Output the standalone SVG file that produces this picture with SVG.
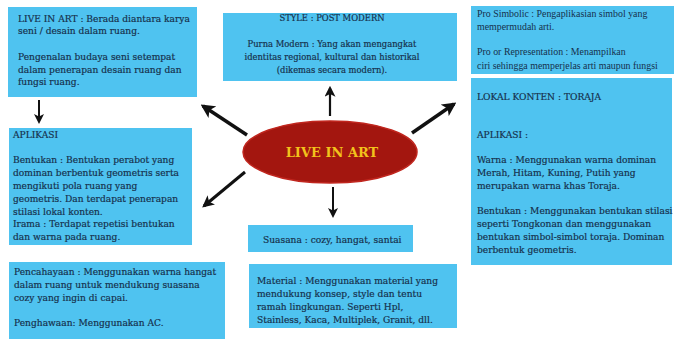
<svg xmlns="http://www.w3.org/2000/svg" width="674" height="339" viewBox="0 0 674 339">
<defs>
<style>
.box{fill:#4fc3f0;}
.t{font-family:"DejaVu Serif","Liberation Serif",serif;font-size:9.1px;fill:#16304c;stroke:#16304c;stroke-width:0.2px;}
.ts{font-size:8.4px;}
.t2{font-family:"Liberation Serif","DejaVu Serif",serif;font-size:9.9px;fill:#16304c;}
.arr{stroke:#111;fill:none;}
</style>
<marker id="ah" viewBox="0 0 10 10" refX="8" refY="5" markerWidth="4" markerHeight="4" orient="auto" markerUnits="strokeWidth">
<path d="M0,0 L10,5 L0,10 L2.5,5 Z" fill="#111"/>
</marker>
<marker id="ah2" viewBox="0 0 10 10" refX="8" refY="5" markerWidth="5" markerHeight="5" orient="auto" markerUnits="strokeWidth">
<path d="M0,0 L10,5 L0,10 L2.5,5 Z" fill="#111"/>
</marker>
</defs>
<rect width="674" height="339" fill="#fff"/>

<g id="connectors">
<line class="arr" x1="39" y1="100" x2="39" y2="122" stroke-width="2" marker-end="url(#ah2)"/>
<line class="arr" x1="330" y1="116" x2="330" y2="88" stroke-width="2.2" marker-end="url(#ah2)"/>
<line class="arr" x1="333" y1="187" x2="333" y2="216" stroke-width="2" marker-end="url(#ah2)"/>
<line class="arr" x1="247" y1="135" x2="203" y2="106" stroke-width="3.5" marker-end="url(#ah)"/>
<line class="arr" x1="245" y1="172" x2="204" y2="206" stroke-width="3" marker-end="url(#ah)"/>
<line class="arr" x1="412" y1="133" x2="454" y2="104" stroke-width="3.5" marker-end="url(#ah)"/>
</g>

<g id="center">
<ellipse cx="330" cy="152" rx="87" ry="31" fill="#a3160f" stroke="#c0261e" stroke-width="1.5"/>
<text x="332" y="157" text-anchor="middle" font-family="DejaVu Serif, serif" font-weight="bold" font-size="13px" fill="#f2c21c">LIVE IN ART</text>
</g>

<g id="live-in-art">
<rect class="box" x="8" y="7" width="189" height="90"/>
<text class="t" x="18" y="22">LIVE IN ART : Berada diantara karya</text>
<text class="t" x="18" y="34">seni / desain dalam ruang.</text>
<text class="t" x="18" y="60">Pengenalan budaya seni setempat</text>
<text class="t" x="18" y="73">dalam penerapan desain ruang dan</text>
<text class="t" x="18" y="85">fungsi ruang.</text>
</g>

<g id="aplikasi-left">
<rect class="box" x="9" y="128" width="183" height="117"/>
<text class="t" x="13" y="138">APLIKASI</text>
<text class="t" x="13" y="163">Bentukan : Bentukan perabot yang</text>
<text class="t" x="13" y="176">dominan berbentuk geometris serta</text>
<text class="t" x="13" y="189">mengikuti pola ruang yang</text>
<text class="t" x="13" y="202">geometris. Dan terdapat penerapan</text>
<text class="t" x="13" y="215">stilasi lokal konten.</text>
<text class="t" x="13" y="227">Irama : Terdapat repetisi bentukan</text>
<text class="t" x="13" y="240">dan warna pada ruang.</text>
</g>

<g id="style">
<rect class="box" x="223" y="13" width="234" height="68"/>
<text class="t ts" x="332" y="21" text-anchor="middle">STYLE : POST MODERN</text>
<text class="t ts" x="332" y="47" text-anchor="middle">Purna Modern : Yang akan mengangkat</text>
<text class="t ts" x="332" y="60" text-anchor="middle">identitas regional, kultural dan historikal</text>
<text class="t ts" x="332" y="73" text-anchor="middle">(dikemas secara modern).</text>
</g>

<g id="pro-simbolic">
<rect class="box" x="471" y="6" width="203" height="68"/>
<text class="t2" x="477" y="17">Pro Simbolic : Pengaplikasian simbol yang</text>
<text class="t2" x="477" y="30">mempermudah arti.</text>
<text class="t2" x="477" y="55">Pro or Representation : Menampilkan</text>
<text class="t2" x="477" y="69">ciri sehingga memperjelas arti maupun fungsi</text>
</g>

<g id="lokal-konten">
<rect class="box" x="471" y="78" width="201" height="187"/>
<text class="t" x="477" y="100">LOKAL KONTEN : TORAJA</text>
<text class="t" x="477" y="138">APLIKASI :</text>
<text class="t" x="477" y="163">Warna : Menggunakan warna dominan</text>
<text class="t" x="477" y="176">Merah, Hitam, Kuning, Putih yang</text>
<text class="t" x="477" y="189">merupakan warna khas Toraja.</text>
<text class="t" x="477" y="214">Bentukan : Menggunakan bentukan stilasi</text>
<text class="t" x="477" y="227">seperti Tongkonan dan menggunakan</text>
<text class="t" x="477" y="240">bentukan simbol-simbol toraja. Dominan</text>
<text class="t" x="477" y="253">berbentuk geometris.</text>
</g>

<g id="suasana">
<rect class="box" x="248" y="225" width="165" height="27"/>
<text class="t" x="263" y="243">Suasana : cozy, hangat, santai</text>
</g>

<g id="material">
<rect class="box" x="249" y="264" width="208" height="64"/>
<text class="t" x="257" y="284">Material : Menggunakan material yang</text>
<text class="t" x="257" y="297">mendukung konsep, style dan tentu</text>
<text class="t" x="257" y="310">ramah lingkungan. Seperti Hpl,</text>
<text class="t" x="257" y="323">Stainless, Kaca, Multiplek, Granit, dll.</text>
</g>

<g id="pencahayaan">
<rect class="box" x="9" y="262" width="216" height="77"/>
<text class="t" x="14" y="275">Pencahayaan : Menggunakan warna hangat</text>
<text class="t" x="14" y="288">dalam ruang untuk mendukung suasana</text>
<text class="t" x="14" y="301">cozy yang ingin di capai.</text>
<text class="t" x="14" y="326">Penghawaan: Menggunakan AC.</text>
</g>
</svg>
